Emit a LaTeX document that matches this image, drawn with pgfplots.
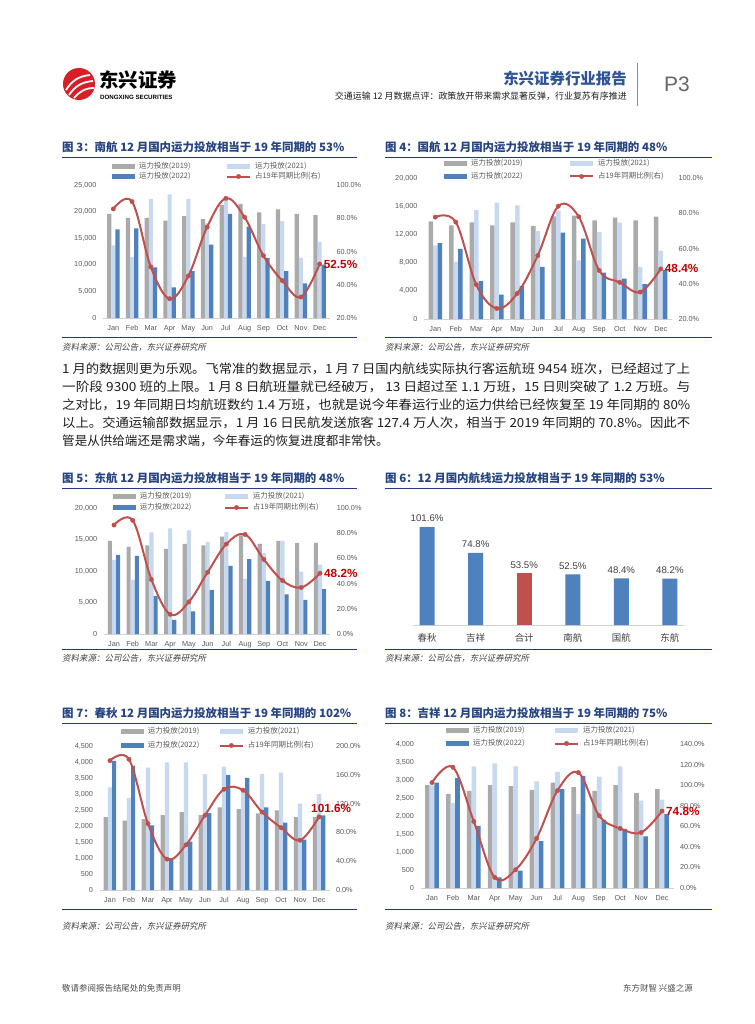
\documentclass[border=0pt]{standalone}
\usepackage{graphicx}
\usepackage{pgfplots}
\pgfplotsset{compat=1.18}
\usepackage{pgfplotstable}
\usepackage{fontspec}
\setmainfont{Liberation Sans}
\newfontfamily\cjk{Noto Sans CJK SC}
\newfontfamily\cjksl[FakeSlant=0.2]{Noto Sans CJK SC}

\definecolor{c19}{RGB}{170,170,170}
\definecolor{c21}{RGB}{198,217,241}
\definecolor{c22}{RGB}{79,129,189}
\definecolor{cline}{RGB}{192,80,77}
\definecolor{cval}{RGB}{192,0,0}
\definecolor{ctitle}{RGB}{38,68,130}
\definecolor{crule}{RGB}{40,55,140}
\definecolor{ctick}{RGB}{89,89,89}
\definecolor{ctext}{RGB}{30,30,30}
\definecolor{hdrblue}{RGB}{46,84,150}
\definecolor{logored}{RGB}{214,31,38}

% month, 2019, 2021, 2022, share of 2019 (%)
\pgfplotstableread{
m a b c r
0 19550 13660 16670 85.6
1 18800 11470 16850 90.0
2 18800 22370 9520 50.7
3 18300 23250 5760 31.6
4 19170 22370 8830 45.3
5 18600 17800 13780 74.7
6 21240 22300 19550 92.0
7 21430 11470 17170 80.6
8 19860 17670 11280 57.5
9 20430 18230 8830 42.5
10 19550 11280 6520 32.6
11 19360 14290 10030 52.5
}\tNH
\pgfplotstableread{
m a b c r
0 13850 10450 10780 77.8
1 13290 8130 9930 75.0
2 13710 15460 5390 39.5
3 13290 16500 3450 26.0
4 13710 16120 4700 34.5
5 13190 12480 7380 56.0
6 14560 15370 12250 84.0
7 14660 8320 11390 78.0
8 14000 12340 6570 47.5
9 14370 13660 5720 40.8
10 14000 7380 4960 35.3
11 14510 9690 6950 48.4
}\tGH
\pgfplotstableread{
m a b c r
0 14800 11780 12570 86.5
1 13850 8590 12410 90.2
2 14060 16130 6050 43.2
3 13530 16760 2230 15.6
4 14320 16450 3610 25.5
5 14060 14590 6950 49.0
6 15440 16180 10820 71.4
7 15650 8750 11880 79.0
8 14320 12840 8430 59.2
9 14800 14800 6310 42.4
10 14480 9920 5410 36.9
11 14480 11030 7110 48.2
}\tDH
\pgfplotstableread{
m a b c r
0 2281 3204 4033 179.7
1 2167 2872 3888 181.6
2 2219 3826 2022 92.2
3 2343 3992 1000 42.9
4 2437 3992 1514 62.7
5 2343 3619 2406 103.7
6 2582 3857 3588 140.0
7 2530 3100 3505 138.7
8 2395 3619 2582 108.3
9 2489 3671 2105 86.6
10 2281 2696 1576 69.1
11 2281 2997 2333 101.6
}\tCQ
\pgfplotstableread{
m a b c r
0 2864 2850 2929 102.5
1 2614 2356 3058 117.4
2 2698 3381 1728 64.7
3 2855 3464 296 10.3
4 2827 3381 480 17.8
5 2725 2965 1303 48.2
6 2929 3224 2744 94.7
7 2800 2060 3114 112.2
8 2698 3086 1890 70.2
9 2855 3381 1640 57.9
10 2642 2430 1432 54.0
11 2744 2458 2060 74.8
}\tJX

\newcommand\lt[2]{\makebox[#1bp][l]{\hspace{4bp}\cjk #2}}

\pgfplotsset{
  base/.style={scale only axis, anchor=south west, clip=false,
    enlargelimits=false, major tick length=0pt,
    tick label style={font=\fontsize{7.3}{8}\selectfont, text=ctick},
    /pgf/number format/assume math mode=true,
    /pgf/number format/1000 sep={,},
    scaled y ticks=false},
  monthly/.style={base, ybar, bar width=0.22, xmin=-0.55, xmax=11.55, ymin=0,
    axis x line*=bottom, axis y line*=left,
    x axis line style={draw=black!18, line width=0.7bp},
    y axis line style={draw=none},
    xtick={0,...,11},
    xticklabels={Jan,Feb,Mar,Apr,May,Jun,Jul,Aug,Sep,Oct,Nov,Dec},
    xticklabel style={anchor=base, yshift=-12.5bp},
    yticklabel style={xshift=-3bp}},
  sec/.style={base, xmin=-0.55, xmax=11.55, axis x line=none, xtick=\empty,
    axis y line*=right, y axis line style={draw=none},
    yticklabel={\pgfmathprintnumber[fixed,fixed zerofill,precision=1]{\tick}\%},
    yticklabel style={xshift=3bp}},
  bleg/.style={legend image code/.code={\fill[##1] (0bp,-2.2bp) rectangle (23bp,2.2bp);}},
  lleg/.style={legend image code/.code={\draw[##1, mark repeat=2, mark phase=2] plot coordinates {(0bp,0bp) (11.5bp,0bp) (23bp,0bp)};}},
  rline/.style={color=cline, line width=2bp, smooth, tension=0.6, mark=*, mark size=2.2bp,
    mark options={fill=cline, draw=cline, line width=0.4bp}},
  leg/.style n args={3}{legend columns=2, legend cell align=left,
    legend style={at={(axis description cs:#1,#2)}, anchor=north west, draw=none, fill=none,
      inner sep=0pt, outer sep=0pt, row sep=#3, column sep=0pt,
      font=\fontsize{7.5}{8}\selectfont, text=ctick,
      nodes={inner sep=0pt, text height=5.5bp, text depth=1.5bp}}},
}
\tikzset{
  vallab/.style={anchor=west, inner sep=0pt, xshift=4bp, text=cval, font=\bfseries\fontsize{11.8}{12}\selectfont},
  ttl/.style={anchor=west, inner sep=0pt, text=ctitle, font=\cjk\bfseries\fontsize{11.5}{12}\selectfont},
  src/.style={anchor=west, inner sep=0pt, text=black!75, font=\cjksl\fontsize{8.5}{9}\selectfont},
  body/.style={anchor=west, inner sep=0pt, text=ctext, font=\cjk\fontsize{12.6}{14}\selectfont},
}

\begin{document}
\begin{tikzpicture}
\fill[white] (0,0) rectangle (755bp,-1024bp);
\path[use as bounding box] (0,0) rectangle (755bp,-1024bp);

% ---------- header
\fill[logored] (79bp,-84bp) circle (16bp);
\draw[white, line width=1.8bp] (66bp,-90bp) .. controls (72bp,-80bp) and (80bp,-76bp) .. (90bp,-75bp);
\draw[white, line width=1.8bp] (69bp,-95bp) .. controls (75bp,-86bp) and (82bp,-82bp) .. (93bp,-81bp);
\draw[white, line width=1.8bp] (74bp,-98bp) .. controls (79bp,-92bp) and (85bp,-88bp) .. (94bp,-88bp);
\node[anchor=west, inner sep=0pt, font=\cjk\bfseries\fontsize{19.5}{20}\selectfont] at (99bp,-80bp) {东兴证券};
\node[anchor=west, inner sep=0pt, font=\bfseries\fontsize{6.2}{7}\selectfont] at (100bp,-97bp) {DONGXING SECURITIES};
\node[anchor=east, inner sep=0pt, text=hdrblue, font=\cjk\bfseries\fontsize{15.5}{16}\selectfont] at (627bp,-79bp) {东兴证券行业报告};
\node[anchor=east, inner sep=0pt, text=ctext, font=\cjk\fontsize{9}{10}\selectfont] at (627bp,-96bp) {交通运输 12 月数据点评：政策放开带来需求显著反弹，行业复苏有序推进};
\draw[black!45, line width=1bp] (637bp,-63bp) -- (637bp,-106bp);
\node[anchor=west, inner sep=0pt, text=black!60, font=\fontsize{21}{22}\selectfont] at (664bp,-84bp) {P3};

% ---------- titles, rules, sources
\node[ttl] at (62bp,-147bp) {图 3：南航 12 月国内运力投放相当于 19 年同期的 53\%};
\node[ttl] at (385bp,-147bp) {图 4：国航 12 月国内运力投放相当于 19 年同期的 48\%};
\node[ttl] at (62bp,-478bp) {图 5：东航 12 月国内运力投放相当于 19 年同期的 48\%};
\node[ttl] at (385bp,-478bp) {图 6：12 月国内航线运力投放相当于 19 年同期的 53\%};
\node[ttl] at (62bp,-713bp) {图 7：春秋 12 月国内运力投放相当于 19 年同期的 102\%};
\node[ttl] at (385bp,-713bp) {图 8：吉祥 12 月国内运力投放相当于 19 年同期的 75\%};
\foreach \y in {157,337,488,649,723,909}{
  \draw[crule, line width=0.8bp] (62bp,-\y bp) -- (357bp,-\y bp);
  \draw[crule, line width=0.8bp] (385bp,-\y bp) -- (712bp,-\y bp);
}
\foreach \x/\y in {62/347,385/347,62/658,385/658,62/926,385/926}{
  \node[src] at (\x bp,-\y bp) {资料来源：公司公告，东兴证券研究所};
}

% ---------- body text
\node[body] at (62bp,-369bp) {\resizebox{628bp}{\height}{1 月的数据则更为乐观。飞常准的数据显示，1 月 7 日国内航线实际执行客运航班 9454 班次，已经超过了上}};
\node[body] at (62bp,-387bp) {\resizebox{628bp}{\height}{一阶段 9300 班的上限。1 月 8 日航班量就已经破万， 13 日超过至 1.1 万班，15 日则突破了 1.2 万班。与}};
\node[body] at (62bp,-405bp) {\resizebox{628bp}{\height}{之对比，19 年同期日均航班数约 1.4 万班，也就是说今年春运行业的运力供给已经恢复至 19 年同期的 80\%}};
\node[body] at (62bp,-423bp) {\resizebox{628bp}{\height}{以上。交通运输部数据显示，1 月 16 日民航发送旅客 127.4 万人次，相当于 2019 年同期的 70.8\%。因此不}};
\node[body] at (62bp,-441bp) {管是从供给端还是需求端，今年春运的恢复进度都非常快。};

% ---------- footer
\node[anchor=west, inner sep=0pt, text=black!70, font=\cjk\fontsize{8.5}{9}\selectfont] at (62bp,-988bp) {敬请参阅报告结尾处的免责声明};
\node[anchor=east, inner sep=0pt, text=black!70, font=\cjk\fontsize{8.5}{9}\selectfont] at (693bp,-988bp) {东方财智 兴盛之源};

% ---------- chart 3: China Southern
\begin{axis}[monthly, at={(103bp,-318bp)}, width=227bp, height=133bp,
  ymax=25000, ytick={0,5000,...,25000}, leg={0.040}{1.165}{3bp}]
\addplot[fill=c19, draw=none, bar shift=-0.22, bleg] table[x=m,y=a] {\tNH};
\addlegendentry{\lt{91}{运力投放(2019)}}
\addplot[fill=c21, draw=none, bar shift=0, bleg] table[x=m,y=b] {\tNH};
\addlegendentry{\lt{60}{运力投放(2021)}}
\addplot[fill=c22, draw=none, bar shift=0.22, bleg] table[x=m,y=c] {\tNH};
\addlegendentry{\lt{91}{运力投放(2022)}}
\addlegendimage{rline, lleg}
\addlegendentry{\lt{60}{占19年同期比例(右)}}
\end{axis}
\begin{axis}[sec, at={(103bp,-318bp)}, width=227bp, height=133bp,
  ymin=20, ymax=100, ytick={20,40,...,100}]
\addplot[rline] table[x=m,y=r] {\tNH};
\node[vallab] at (axis cs:11,52.5) {52.5\%};
\end{axis}

% ---------- chart 4: Air China
\begin{axis}[monthly, at={(424bp,-319bp)}, width=248bp, height=141bp,
  ymax=20000, ytick={0,4000,...,20000}, leg={0.081}{1.128}{6bp}]
\addplot[fill=c19, draw=none, bar shift=-0.22, bleg] table[x=m,y=a] {\tGH};
\addlegendentry{\lt{102}{运力投放(2019)}}
\addplot[fill=c21, draw=none, bar shift=0, bleg] table[x=m,y=b] {\tGH};
\addlegendentry{\lt{60}{运力投放(2021)}}
\addplot[fill=c22, draw=none, bar shift=0.22, bleg] table[x=m,y=c] {\tGH};
\addlegendentry{\lt{102}{运力投放(2022)}}
\addlegendimage{rline, lleg}
\addlegendentry{\lt{60}{占19年同期比例(右)}}
\end{axis}
\begin{axis}[sec, at={(424bp,-319bp)}, width=248bp, height=141bp,
  ymin=20, ymax=100, ytick={20,40,...,100}]
\addplot[rline] table[x=m,y=r] {\tGH};
\node[vallab] at (axis cs:11,48.4) {48.4\%};
\end{axis}

% ---------- chart 5: China Eastern
\begin{axis}[monthly, at={(103.7bp,-634bp)}, width=226.6bp, height=126bp,
  ymax=20000, ytick={0,5000,...,20000}, leg={0.041}{1.119}{4bp}]
\addplot[fill=c19, draw=none, bar shift=-0.22, bleg] table[x=m,y=a] {\tDH};
\addlegendentry{\lt{88}{运力投放(2019)}}
\addplot[fill=c21, draw=none, bar shift=0, bleg] table[x=m,y=b] {\tDH};
\addlegendentry{\lt{60}{运力投放(2021)}}
\addplot[fill=c22, draw=none, bar shift=0.22, bleg] table[x=m,y=c] {\tDH};
\addlegendentry{\lt{88}{运力投放(2022)}}
\addlegendimage{rline, lleg}
\addlegendentry{\lt{60}{占19年同期比例(右)}}
\end{axis}
\begin{axis}[sec, at={(103.7bp,-634bp)}, width=226.6bp, height=126bp,
  ymin=0, ymax=100, ytick={0,20,...,100}]
\addplot[rline] table[x=m,y=r] {\tDH};
\node[vallab] at (axis cs:11,48.2) {48.2\%};
\end{axis}

% ---------- chart 6: December share of 2019 by airline
\begin{axis}[base, at={(413bp,-625bp)}, width=271bp, height=106bp,
  xmin=-0.29, xmax=5.29, ymin=0, ymax=110, ybar, bar width=0.31,
  axis x line*=bottom, axis y line=none,
  x axis line style={draw=black!18, line width=0.7bp},
  xtick={0,...,5}, xticklabels={春秋,吉祥,合计,南航,国航,东航},
  xticklabel style={font=\cjk\fontsize{9.5}{10}\selectfont, text=black!75, anchor=base, yshift=-16.5bp},
  ytick=\empty,
  nodes near coords={\pgfmathprintnumber[fixed,fixed zerofill,precision=1]{\pgfplotspointmeta}\%},
  every node near coord/.append style={font=\fontsize{9.7}{10}\selectfont, text=black!75, yshift=1.5bp}]
\addplot[fill=c22, draw=none, bar shift=0] coordinates {(0,101.6) (1,74.8) (3,52.5) (4,48.4) (5,48.2)};
\addplot[fill=cline, draw=none, bar shift=0] coordinates {(2,53.5)};
\end{axis}

% ---------- chart 7: Spring Airlines
\begin{axis}[monthly, at={(99.5bp,-890bp)}, width=230bp, height=144bp,
  ymax=4500, ytick={0,500,...,4500}, leg={0.093}{1.125}{7bp}]
\addplot[fill=c19, draw=none, bar shift=-0.22, bleg] table[x=m,y=a] {\tCQ};
\addlegendentry{\lt{75}{运力投放(2019)}}
\addplot[fill=c21, draw=none, bar shift=0, bleg] table[x=m,y=b] {\tCQ};
\addlegendentry{\lt{60}{运力投放(2021)}}
\addplot[fill=c22, draw=none, bar shift=0.22, bleg] table[x=m,y=c] {\tCQ};
\addlegendentry{\lt{75}{运力投放(2022)}}
\addlegendimage{rline, lleg}
\addlegendentry{\lt{60}{占19年同期比例(右)}}
\end{axis}
\begin{axis}[sec, at={(99.5bp,-890bp)}, width=230bp, height=144bp,
  ymin=0, ymax=200, ytick={0,40,...,200}]
\addplot[rline] table[x=m,y=r] {\tCQ};
\node[vallab, xshift=-12bp, yshift=8bp] at (axis cs:11,101.6) {101.6\%};
\end{axis}

% ---------- chart 8: Juneyao
\begin{axis}[monthly, at={(420.5bp,-888bp)}, width=253bp, height=144bp,
  ymax=4000, ytick={0,500,...,4000}, leg={0.101}{1.118}{6bp}]
\addplot[fill=c19, draw=none, bar shift=-0.22, bleg] table[x=m,y=a] {\tJX};
\addlegendentry{\lt{85}{运力投放(2019)}}
\addplot[fill=c21, draw=none, bar shift=0, bleg] table[x=m,y=b] {\tJX};
\addlegendentry{\lt{60}{运力投放(2021)}}
\addplot[fill=c22, draw=none, bar shift=0.22, bleg] table[x=m,y=c] {\tJX};
\addlegendentry{\lt{85}{运力投放(2022)}}
\addlegendimage{rline, lleg}
\addlegendentry{\lt{60}{占19年同期比例(右)}}
\end{axis}
\begin{axis}[sec, at={(420.5bp,-888bp)}, width=253bp, height=144bp,
  ymin=0, ymax=140, ytick={0,20,...,140}]
\addplot[rline] table[x=m,y=r] {\tJX};
\node[vallab] at (axis cs:11,74.8) {74.8\%};
\end{axis}
\end{tikzpicture}
\end{document}
